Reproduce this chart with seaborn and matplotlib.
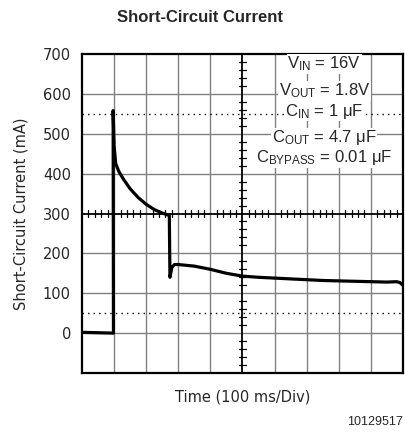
import numpy as np
import pandas as pd
import matplotlib
matplotlib.use("Agg")
import matplotlib.pyplot as plt
import seaborn as sns

# Time in divisions (100 ms/Div), current in mA
time_div = [0.0, 0.5, 0.98, 0.97, 1.0, 1.05, 1.15, 1.3, 1.5, 1.75, 2.0, 2.25, 2.5, 2.65, 2.72, 2.74, 2.8, 2.88,
            3.0, 3.5, 4.0, 4.5, 5.0, 5.5, 6.0, 6.5, 7.0, 7.5, 8.0, 8.5, 9.0, 9.5, 9.8, 9.9, 10.0]
current_ma = [2, 1, 0, 558, 470, 425, 405, 385, 362, 340, 323, 310, 301, 297, 295, 140, 165, 172,
              172, 168, 160, 150, 143, 140, 138, 136, 134, 132, 131, 130, 129, 128, 129, 127, 120]

yticks = [0, 100, 200, 300, 400, 500, 600, 700]
annotations = [("$\\mathregular{V_{IN}}$ = 16V", 675),
               ("$\\mathregular{V_{OUT}}$ = 1.8V", 607),
               ("$\\mathregular{C_{IN}}$ = 1 $\\mathregular{\\mu}$F", 557),
               ("$\\mathregular{C_{OUT}}$ = 4.7 $\\mathregular{\\mu}$F", 490),
               ("$\\mathregular{C_{BYPASS}}$ = 0.01 $\\mathregular{\\mu}$F", 440)]

sns.set_style("white")
plt.rcParams['font.family'] = ['DejaVu Sans']

df = pd.DataFrame({"t": time_div, "i": current_ma})

fig = plt.figure(figsize=(4.06, 4.34), dpi=100)
ax = fig.add_axes([82/406, 61/434, 321/406, 319/434])

# grid
for xv in range(1, 10):
    if xv == 5:
        continue
    ax.axvline(xv, color="#808080", lw=1.0, zorder=1)
for yv in [0, 100, 200, 400, 500, 600]:
    ax.axhline(yv, color="#808080", lw=1.0, zorder=1)
for yv in [550, 50]:
    ax.axhline(yv, color="black", lw=1.0, ls=(0, (1, 3)), zorder=1)
# center lines
ax.axhline(300, color="black", lw=1.3, zorder=2)
ax.axvline(5, color="black", lw=1.3, zorder=2)
for k in range(0, 51):
    xv = k * 0.2
    if k % 5 == 0:
        continue
    ax.plot([xv, xv], [300 - 8, 300 + 8], color="black", lw=0.9, zorder=2)
for k in range(-5, 36):
    yv = k * 20
    if k % 5 == 0:
        continue
    ax.plot([5 - 0.12, 5 + 0.12], [yv, yv], color="black", lw=0.9, zorder=2)

sns.lineplot(data=df, x="t", y="i", ax=ax, color="black", lw=2.3, zorder=5, sort=False)

for txt, yv in annotations:
    ax.text(7.55, yv, txt, ha="center", va="center", fontsize=12, family="Liberation Sans",
            bbox=dict(facecolor="white", edgecolor="none", pad=0.5), zorder=6)

ax.set_xlim(0, 10)
ax.set_ylim(-100, 700)
ax.set_xticks([])
ax.set_yticks(yticks)
ax.set_yticklabels([str(v) for v in yticks], fontsize=10.5)
ax.tick_params(axis="y", length=0, pad=8)
for s in ax.spines.values():
    s.set_linewidth(1.6)
    s.set_color("black")
ax.set_xlabel("Time (100 ms/Div)", fontsize=10.5, labelpad=12)
ax.set_ylabel("Short-Circuit Current (mA)", fontsize=10.5, labelpad=10)

fig.text(200/406, 1 - 18/434, "Short-Circuit Current", ha="center", va="center",
         fontsize=12, fontweight="bold", family="Liberation Sans")
fig.text(403/406, 1 - 422/434, "10129517", ha="right", va="center", fontsize=9,
         family="Liberation Sans")

fig.savefig("out.png", dpi=100)
